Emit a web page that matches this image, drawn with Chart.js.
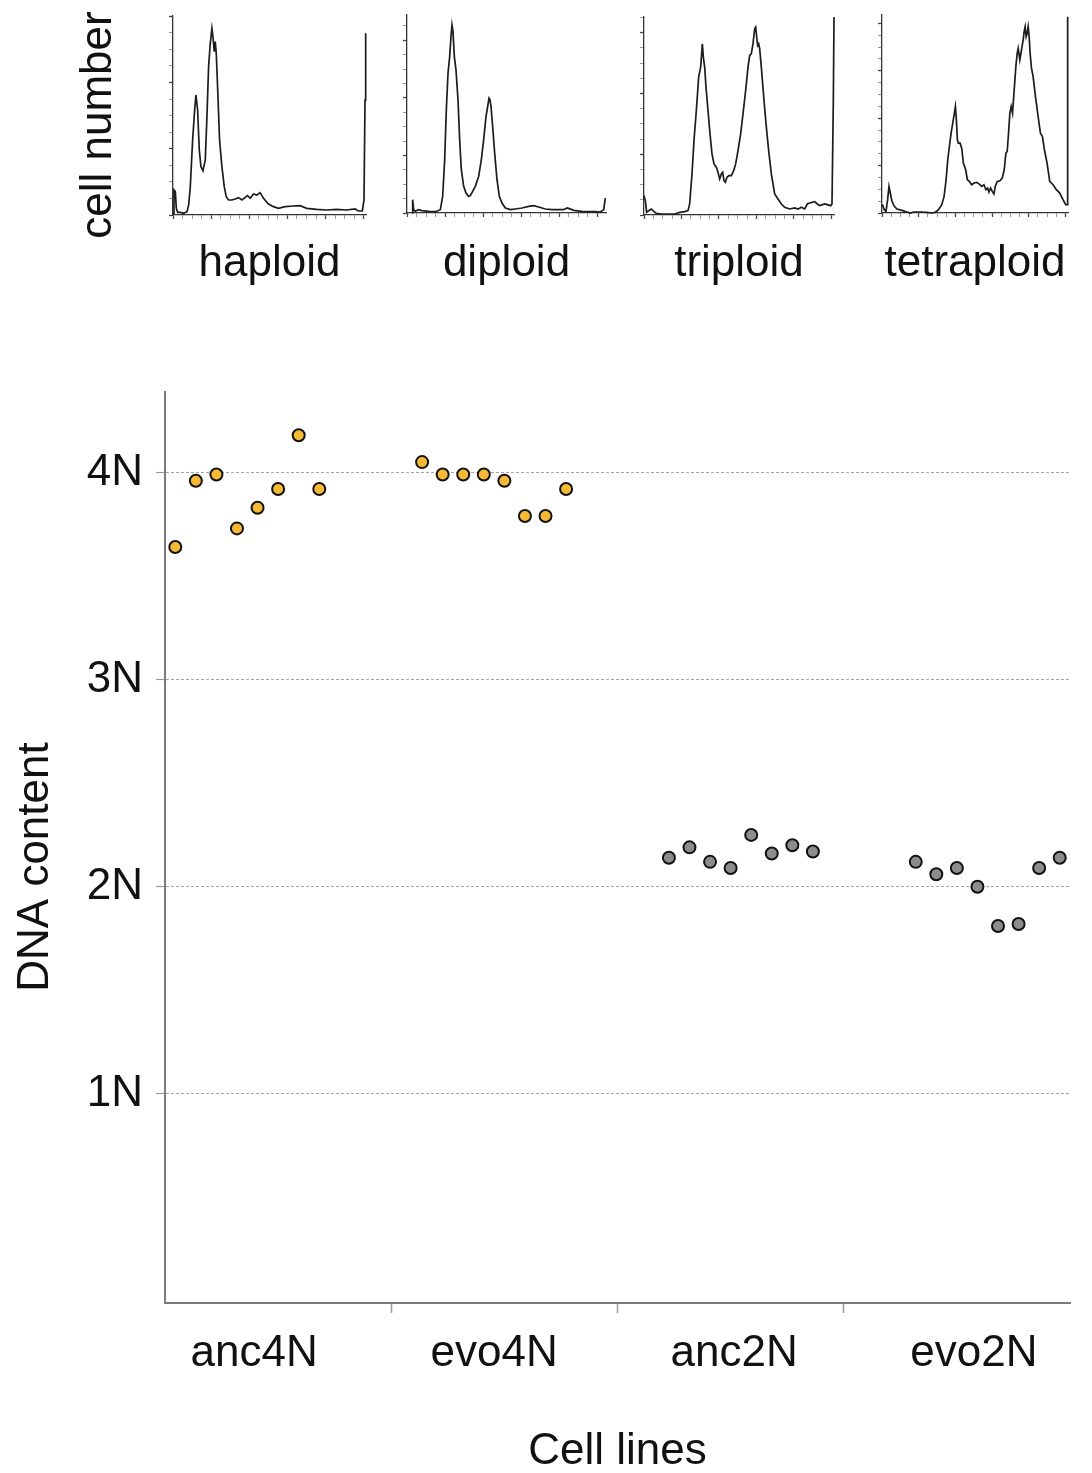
<!DOCTYPE html>
<html>
<head>
<meta charset="utf-8">
<title>DNA content of cell lines</title>
<script src="https://cdn.jsdelivr.net/npm/chart.js@4.4.0/dist/chart.umd.min.js"></script>
<style>
    html, body { margin: 0; padding: 0; background: #fff; overflow: hidden; }
    body { width: 1092px; height: 1473px; position: relative; }
    canvas { position: absolute; }
</style>
</head>
<body>
<script>
// Flow cytometry histograms (channel, cell count)
const haploidChannel = [0, 3, 7, 10, 14, 22, 32, 42, 47, 52, 59, 65, 69, 74, 79, 84, 90, 97, 102, 107, 112, 117, 120, 124, 127, 130, 134, 140, 147, 154, 160, 167, 177, 187, 197, 207, 217, 224, 232, 242, 252, 262, 272, 287, 302, 317, 337, 362, 382, 402, 432, 462, 492, 522, 547, 557, 569, 574, 577, 579];
const haploidCount = [5, 75, 70, 20, 8, 8, 5, 10, 30, 85, 225, 315, 360, 315, 195, 145, 133, 165, 295, 445, 515, 560, 535, 490, 520, 485, 385, 225, 145, 85, 55, 45, 45, 48, 52, 45, 53, 58, 50, 63, 60, 67, 50, 33, 25, 20, 25, 27, 28, 20, 17, 15, 17, 15, 18, 12, 12, 45, 345, 545];

const diploidChannel = [15, 17, 20, 25, 35, 45, 65, 85, 100, 107, 113, 118, 123, 128, 132, 135, 138, 142, 147, 153, 158, 163, 170, 177, 185, 190, 197, 205, 215, 223, 230, 237, 242, 246, 249, 252, 257, 263, 270, 277, 285, 295, 310, 325, 345, 365, 380, 395, 415, 435, 455, 470, 480, 487, 500, 525, 545, 565, 580, 590, 595];
const diploidCount = [0, 40, 10, 5, 10, 7, 5, 4, 10, 50, 160, 310, 420, 470, 530, 565, 545, 470, 430, 340, 220, 130, 80, 60, 50, 52, 65, 80, 110, 160, 220, 290, 320, 345, 340, 320, 260, 180, 100, 50, 30, 15, 10, 12, 15, 20, 22, 18, 12, 10, 10, 10, 15, 13, 8, 5, 4, 4, 3, 10, 45];

const triploidChannel = [0, 4, 8, 14, 22, 27, 37, 52, 72, 92, 107, 122, 132, 137, 144, 150, 157, 164, 170, 175, 178, 182, 186, 192, 198, 204, 210, 217, 222, 227, 232, 236, 240, 244, 249, 255, 262, 269, 275, 282, 290, 297, 305, 312, 317, 322, 327, 332, 335, 338, 341, 344, 347, 352, 360, 367, 374, 382, 392, 402, 412, 422, 437, 452, 462, 472, 482, 490, 497, 504, 512, 520, 527, 535, 542, 550, 560, 564, 568, 570];
const triploidCount = [58, 43, 8, 13, 18, 13, 5, 3, 3, 3, 8, 10, 13, 33, 123, 223, 313, 413, 443, 513, 473, 443, 383, 313, 243, 183, 153, 143, 128, 108, 123, 128, 103, 98, 113, 118, 118, 133, 153, 193, 243, 303, 373, 443, 478, 483, 513, 558, 563, 533, 508, 513, 498, 443, 343, 263, 193, 123, 63, 48, 33, 23, 18, 21, 18, 23, 18, 33, 36, 38, 40, 33, 28, 31, 33, 31, 28, 33, 343, 593];

const tetraploidChannel = [0, 3, 7, 12, 17, 21, 25, 30, 37, 45, 60, 75, 85, 95, 115, 135, 150, 160, 170, 180, 187, 193, 198, 203, 208, 213, 218, 221, 224, 227, 230, 235, 240, 245, 252, 257, 263, 270, 277, 285, 293, 300, 307, 313, 318, 322, 327, 332, 337, 341, 347, 355, 362, 368, 373, 377, 381, 385, 389, 393, 398, 403, 407, 410, 415, 420, 425, 428, 431, 434, 437, 440, 443, 446, 450, 455, 462, 470, 477, 483, 489, 497, 505, 515, 525, 535, 545, 553, 557, 559];
const tetraploidCount = [25, 20, 10, 5, 40, 80, 60, 35, 20, 12, 8, 3, 0, 3, 3, 2, 0, 2, 10, 25, 50, 100, 160, 200, 240, 270, 300, 320, 280, 220, 210, 210, 195, 150, 130, 100, 95, 85, 90, 92, 87, 80, 85, 70, 75, 63, 75, 65, 57, 80, 95, 97, 105, 130, 180, 185, 240, 300, 320, 300, 370, 440, 480, 495, 460, 490, 520, 545, 560, 530, 540, 560, 530, 480, 435, 410, 350, 290, 240, 230, 190, 150, 95, 85, 70, 60, 40, 25, 25, 590];

// DNA content (in N) measured for each cell line
const cellLines = ['anc4N', 'evo4N', 'anc2N', 'evo2N'];
const anc4NContent = [3.64, 3.96, 3.99, 3.73, 3.83, 3.92, 4.18, 3.92];
const evo4NContent = [4.05, 3.99, 3.99, 3.99, 3.96, 3.79, 3.79, 3.92];
const anc2NContent = [2.14, 2.19, 2.12, 2.09, 2.25, 2.16, 2.20, 2.17];
const evo2NContent = [2.12, 2.06, 2.09, 2.00, 1.81, 1.82, 2.09, 2.14];
const ploidyTicks = [1, 2, 3, 4];

const FONT = '"Liberation Sans", Arial, Helvetica, sans-serif';
Chart.defaults.font.family = FONT;
Chart.defaults.color = '#111';

// Layout of the four histogram panels (chart area in page pixels)
const histPanels = [
    { label: 'haploid', ch: haploidChannel, count: haploidCount, left: 173, right: 366, top: 16, bottom: 215, xMax: 580, xMajor: 114.6, yMax: 597, yMajor: 198.7 },
    { label: 'diploid', ch: diploidChannel, count: diploidCount, left: 407, right: 606, top: 15, bottom: 213, xMax: 597, xMajor: 114, yMax: 595, yMajor: 173 },
    { label: 'triploid', ch: triploidChannel, count: triploidCount, left: 644, right: 834, top: 17, bottom: 215, xMax: 570, xMajor: 112.4, yMax: 593, yMajor: 182 },
    { label: 'tetraploid', ch: tetraploidChannel, count: tetraploidCount, left: 882, right: 1068, top: 15, bottom: 213, xMax: 560, xMajor: 110.4, yMax: 595, yMajor: 142.5 }
];

// Rotated axis label, placed a bit off the axis centre like in the figure
const sideLabelPlugin = {
    id: 'sideLabel',
    afterDraw(chart, args, opts) {
        if (!opts.text) return;
        const ctx = chart.ctx;
        ctx.save();
        ctx.translate(opts.x, opts.y);
        ctx.rotate(-Math.PI / 2);
        ctx.font = '44px ' + FONT;
        ctx.fillStyle = '#111';
        ctx.textAlign = 'center';
        ctx.textBaseline = 'middle';
        ctx.fillText(opts.text, 0, 0);
        ctx.restore();
    }
};

// Helper to place a canvas on the page
function makeCanvas(left, top, width, height) {
    const canvas = document.createElement('canvas');
    canvas.width = width;
    canvas.height = height;
    canvas.style.left = left + 'px';
    canvas.style.top = top + 'px';
    canvas.style.width = width + 'px';
    canvas.style.height = height + 'px';
    document.body.appendChild(canvas);
    return canvas;
}

// Minor/major tick positions for the small histogram axes
function minorTicks(major, max) {
    const ticks = [];
    for (let i = 0; i * major / 4 <= max + 0.5; i++) {
        ticks.push({ value: i * major / 4, major: i % 4 === 0 });
    }
    return ticks;
}

function drawHistogram(panel, index) {
    const canvasLeft = index === 0 ? 0 : panel.left - 14;
    const canvasRight = panel.right + 14;
    const canvasHeight = 300;
    const ctx = makeCanvas(canvasLeft, 0, canvasRight - canvasLeft, canvasHeight);

    new Chart(ctx, {
        type: 'line',
        data: {
            datasets: [{
                data: panel.ch.map((c, i) => ({ x: c, y: panel.count[i] })),
                borderColor: '#1c1c1c',
                borderWidth: 1.7,
                pointRadius: 0,
                tension: 0,
                fill: false,
                clip: 4
            }]
        },
        plugins: [sideLabelPlugin],
        options: {
            responsive: false,
            animation: false,
            layout: { padding: { top: panel.top, right: canvasRight - panel.right, bottom: 0, left: 0 }, autoPadding: false },
            plugins: {
                legend: { display: false },
                tooltip: { enabled: false },
                sideLabel: index === 0 ? { text: 'cell number', x: 99, y: 125 } : {}
            },
            scales: {
                x: {
                    type: 'linear',
                    min: 0,
                    max: panel.xMax,
                    afterBuildTicks: scale => { scale.ticks = minorTicks(panel.xMajor, panel.xMax); },
                    afterFit: scale => { scale.height = canvasHeight - panel.bottom; },
                    ticks: { display: false },
                    grid: {
                        drawOnChartArea: false,
                        tickLength: 4,
                        tickWidth: c => (c.index % 4 === 0 ? 1.3 : 1),
                        tickColor: c => (c.index % 4 === 0 ? '#444' : '#999')
                    },
                    border: { color: '#333', width: 1.3 },
                    title: {
                        display: true,
                        text: panel.label,
                        font: { size: 44 },
                        color: '#111',
                        padding: { top: 0, bottom: 10 }
                    }
                },
                y: {
                    type: 'linear',
                    min: 0,
                    max: panel.yMax,
                    afterBuildTicks: scale => { scale.ticks = minorTicks(panel.yMajor, panel.yMax); },
                    afterFit: scale => { scale.width = panel.left - canvasLeft; },
                    ticks: { display: false },
                    grid: {
                        drawOnChartArea: false,
                        tickLength: 4,
                        tickWidth: c => (c.index % 4 === 0 ? 1.3 : 1),
                        tickColor: c => (c.index % 4 === 0 ? '#444' : '#999')
                    },
                    border: { color: '#333', width: 1.3 }
                }
            }
        }
    });
}

// Scatter of DNA content per cell line
function drawContentChart() {
    const canvasTop = 340;
    const canvasHeight = 1140;
    const ctx = makeCanvas(0, canvasTop, 1092, canvasHeight);

    const groups = [anc4NContent, evo4NContent, anc2NContent, evo2NContent];
    const fills = ['#F5B935', '#F5B935', '#8C8C8C', '#8C8C8C'];
    const slot = 12; // x units reserved per cell line

    const datasets = groups.map((values, g) => ({
        label: cellLines[g],
        data: values.map((v, i) => ({ x: g * slot + i, y: v })),
        backgroundColor: fills[g],
        borderColor: '#111',
        borderWidth: 2,
        pointRadius: 6,
        pointHoverRadius: 6
    }));

    const font44 = { size: 44 };

    new Chart(ctx, {
        type: 'scatter',
        data: { datasets },
        plugins: [sideLabelPlugin],
        options: {
            responsive: false,
            animation: false,
            layout: { padding: { top: 391.7 - canvasTop, right: 22, bottom: 0, left: 0 }, autoPadding: false },
            plugins: {
                legend: { display: false },
                tooltip: { enabled: false },
                sideLabel: { text: 'DNA content', x: 36, y: 867 - canvasTop }
            },
            scales: {
                x: {
                    type: 'linear',
                    position: 'bottom',
                    weight: 1,
                    min: -0.5,
                    max: 43.5,
                    afterBuildTicks: scale => {
                        scale.ticks = [3.83, 15.5, 27.17, 38.83].map(v => ({ value: v }));
                    },
                    afterFit: scale => { scale.height = 165; },
                    grid: { display: false, drawTicks: false },
                    border: { display: false },
                    ticks: {
                        font: font44,
                        color: '#111',
                        padding: 12,
                        maxRotation: 0,
                        autoSkip: false,
                        callback: (value, index) => cellLines[index]
                    },
                    title: {
                        display: true,
                        text: 'Cell lines',
                        font: font44,
                        color: '#111',
                        padding: { top: 0, bottom: 2 }
                    }
                },
                xSep: {
                    type: 'linear',
                    position: 'bottom',
                    weight: 0,
                    min: -0.5,
                    max: 43.5,
                    afterBuildTicks: scale => {
                        scale.ticks = [10.5, 21.5, 32.5].map(v => ({ value: v }));
                    },
                    afterFit: scale => { scale.height = 12; },
                    ticks: { display: false },
                    grid: { drawOnChartArea: false, tickLength: 10, tickColor: '#9a9a9a', tickWidth: 1.5 },
                    border: { color: '#7a7a7a', width: 2 }
                },
                y: {
                    type: 'linear',
                    min: -0.01,
                    max: 4.39,
                    afterBuildTicks: scale => {
                        scale.ticks = ploidyTicks.map(v => ({ value: v }));
                    },
                    afterFit: scale => { scale.width = 165; },
                    grid: { color: '#a5a5a5', lineWidth: 1, tickLength: 9, tickColor: '#9a9a9a', tickWidth: 1.2 },
                    border: { color: '#7a7a7a', width: 2, dash: [3, 2] },
                    ticks: {
                        font: font44,
                        color: '#111',
                        padding: 13,
                        callback: value => value + 'N'
                    }
                }
            }
        }
    });
}

histPanels.forEach((panel, i) => drawHistogram(panel, i));
drawContentChart();
</script>
</body>
</html>
